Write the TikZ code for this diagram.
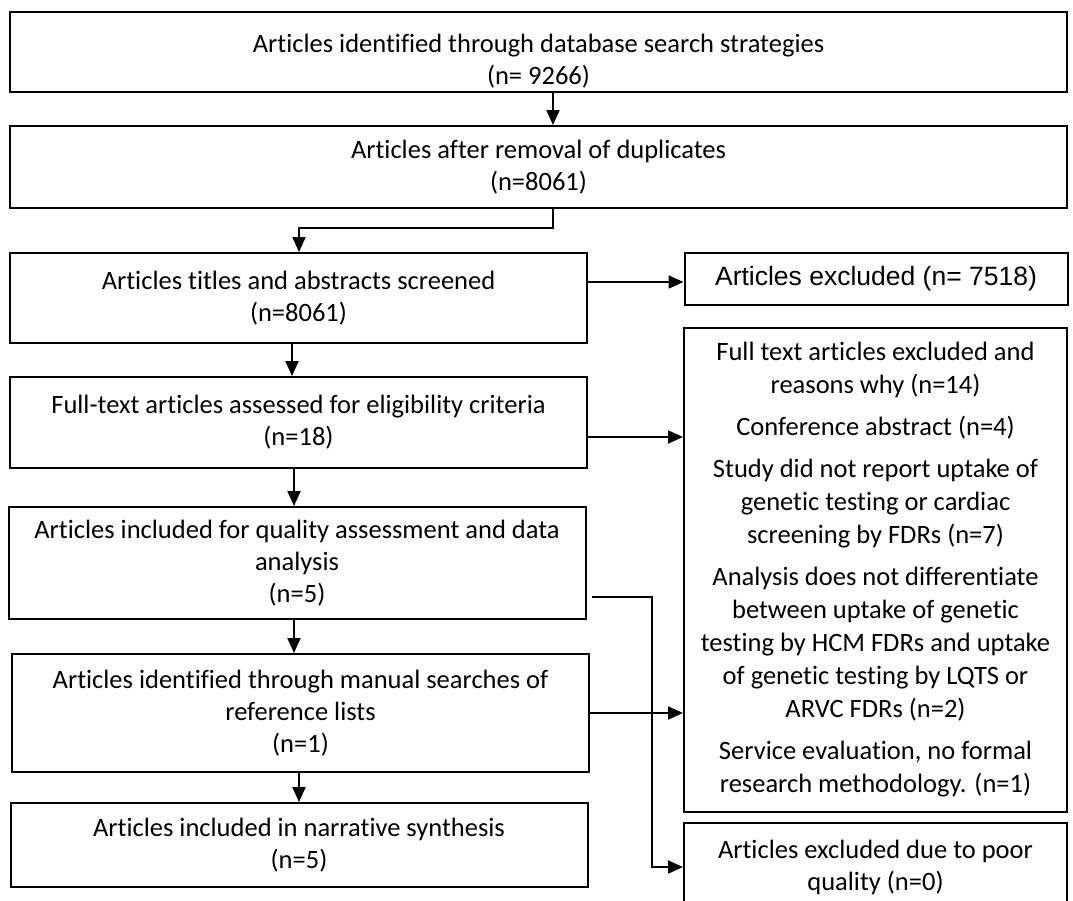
\documentclass[tikz,border=0pt]{standalone}
\usepackage{fontspec}
\setmainfont[Ligatures=NoCommon]{Carlito}
\newfontfamily\arialfont{Liberation Sans}
\usetikzlibrary{arrows.meta,positioning}

\begin{document}
\begin{tikzpicture}[x=0.5pt,y=-0.5pt,
    stagebox/.style={draw,line width=1pt,inner sep=0pt,align=center,font=\fontsize{13.25}{16}\selectfont},
    widebox/.style={stagebox,minimum width=528.5pt},
    leftbox/.style={stagebox,minimum width=288.5pt},
    sidebox/.style={stagebox,minimum width=191.5pt},
    flow/.style={line width=1pt,-{Triangle[length=7.5pt,width=6.5pt]}}]
    \useasboundingbox (0,0) rectangle (1073,901);
    \node[widebox,minimum height=40pt] (ident) at (538.5,52) {\rule{0pt}{18pt}Articles identified through database search strategies\\(n= 9266)};
    \node[widebox,minimum height=41pt] (dedup) at (538.5,167) {Articles after removal of duplicates\\(n=8061)};
    \node[leftbox,minimum height=45pt] (screen) at (298.5,298) {Articles titles and abstracts screened\\(n=8061)};
    \node[sidebox,minimum height=26pt,font=\arialfont\fontsize{13.25}{16}\selectfont] (exclabs) at (876,279) {Articles excluded (n= 7518)};
    \node[leftbox,minimum height=45.5pt] (fulltext) at (298.5,422.5) {Full-text articles assessed for eligibility criteria\\(n=18)};
    \node[sidebox,minimum height=242pt,font=\fontsize{13.25}{16.5}\selectfont] (exclft) at (875.5,570) {Full text articles excluded and\\reasons why (n=14)\\[4.5pt]
      Conference abstract (n=4)\\[4.5pt]
      Study did not report uptake of\\genetic testing or cardiac\\screening by FDRs (n=7)\\[4.5pt]
      Analysis does not differentiate\\between uptake of genetic\\testing by HCM FDRs and uptake\\of genetic testing by LQTS or\\ARVC FDRs (n=2)\\[4.5pt]
      Service evaluation, no formal\\research methodology. (n=1)};
    \node[leftbox,minimum height=56pt] (quality) at (297,563) {Articles included for quality assessment and data\\analysis\\(n=5)};
    \node[leftbox,minimum height=59pt] (manual) at (300.5,713) {Articles identified through manual searches of\\reference lists\\(n=1)};
    \node[leftbox,minimum height=42pt] (synth) at (299,845) {Articles included in narrative synthesis\\(n=5)};
    \node[sidebox,minimum height=44pt] (exclpoor) at (875.5,867) {Articles excluded due to poor\\quality (n=0)};
    \draw[flow] (ident.south -| 553,0) -- (dedup.north -| 553,0);
    \draw[flow] (dedup.south -| 553,0) |- (299,228) -- (screen.north -| 299,0);
    \draw[flow] (screen.east |- 0,282) -- (exclabs.west |- 0,282);
    \draw[flow] (screen.south -| 292,0) -- (fulltext.north -| 292,0);
    \draw[flow] (fulltext.east |- 0,437) -- (exclft.west |- 0,437);
    \draw[flow] (fulltext.south -| 294,0) -- (quality.north -| 294,0);
    \draw[flow] ([xshift=2.5pt]quality.east |- 0,597) -| (652,867) -- (exclpoor.west |- 0,867);
    \draw[flow] (quality.south -| 294,0) -- (manual.north -| 294,0);
    \draw[flow] (manual.east |- 0,713) -- (exclft.west |- 0,713);
    \draw[flow] (manual.south -| 299,0) -- (synth.north -| 299,0);
\end{tikzpicture}
\end{document}
